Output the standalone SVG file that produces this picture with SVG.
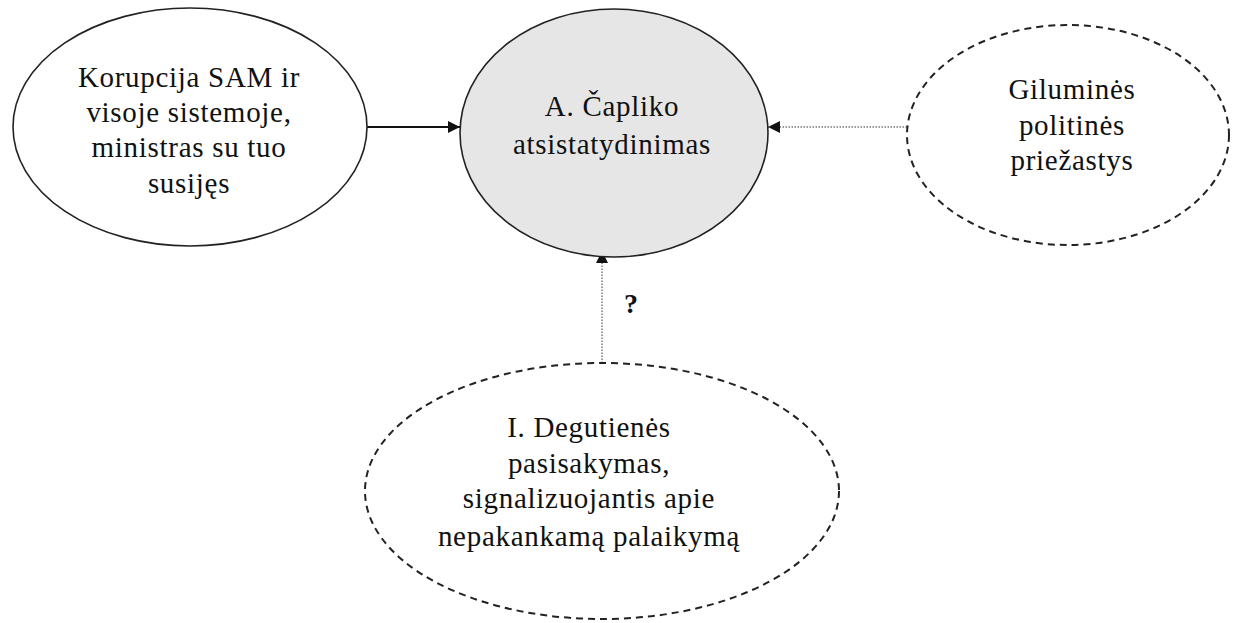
<svg xmlns="http://www.w3.org/2000/svg" width="1246" height="623" viewBox="0 0 1246 623">
<style>
.n{stroke:#222;stroke-width:1.6;fill:#fff}
.main{fill:#e6e6e6}
.d{stroke-dasharray:7 5;stroke-width:2}
.t{font-family:"Liberation Serif","DejaVu Serif",serif;font-size:29px;letter-spacing:0.7px;fill:#111;text-anchor:middle}
.solid{stroke:#111;stroke-width:1.8;fill:none}
.dot{stroke:#999;stroke-width:2;stroke-dasharray:1.5 1.5;fill:none}
</style>
<defs>
<marker id="ah" viewBox="0 0 10 10" refX="10" refY="5" markerWidth="14" markerHeight="12" markerUnits="userSpaceOnUse" orient="auto">
<path d="M0,0 L10,5 L0,10 Z" fill="#111"/>
</marker>
</defs>
<g id="connectors">
<line class="solid" x1="367" y1="127" x2="460" y2="127" marker-end="url(#ah)"/>
<line class="dot" x1="907" y1="127" x2="768" y2="127" marker-end="url(#ah)"/>
<line class="dot" x1="602" y1="363" x2="602" y2="251" marker-end="url(#ah)"/>
<text x="631" y="313" style="font-family:'Liberation Serif',serif;font-size:28px;font-weight:bold;fill:#111;text-anchor:middle">?</text>
</g>
<g id="node-korupcija">
<ellipse class="n" cx="190" cy="127" rx="177" ry="119"/>
<text class="t"><tspan x="189" y="87">Korupcija SAM ir</tspan><tspan x="189" y="122">visoje sistemoje,</tspan><tspan x="189" y="157">ministras su tuo</tspan><tspan x="189" y="193">susijęs</tspan></text>
</g>
<g id="node-caplikas">
<ellipse class="n main" cx="614" cy="133" rx="154" ry="124"/>
<text class="t"><tspan x="612" y="116">A. Čapliko</tspan><tspan x="612" y="154">atsistatydinimas</tspan></text>
</g>
<g id="node-priezastys">
<ellipse class="n d" cx="1068" cy="135" rx="161" ry="110"/>
<text class="t"><tspan x="1072" y="99">Giluminės</tspan><tspan x="1072" y="135">politinės</tspan><tspan x="1072" y="170">priežastys</tspan></text>
</g>
<g id="node-degutiene">
<ellipse class="n d" cx="602" cy="491" rx="237" ry="128"/>
<text class="t"><tspan x="589" y="437">I. Degutienės</tspan><tspan x="589" y="473">pasisakymas,</tspan><tspan x="589" y="508">signalizuojantis apie</tspan><tspan x="589" y="546">nepakankamą palaikymą</tspan></text>
</g>
</svg>
